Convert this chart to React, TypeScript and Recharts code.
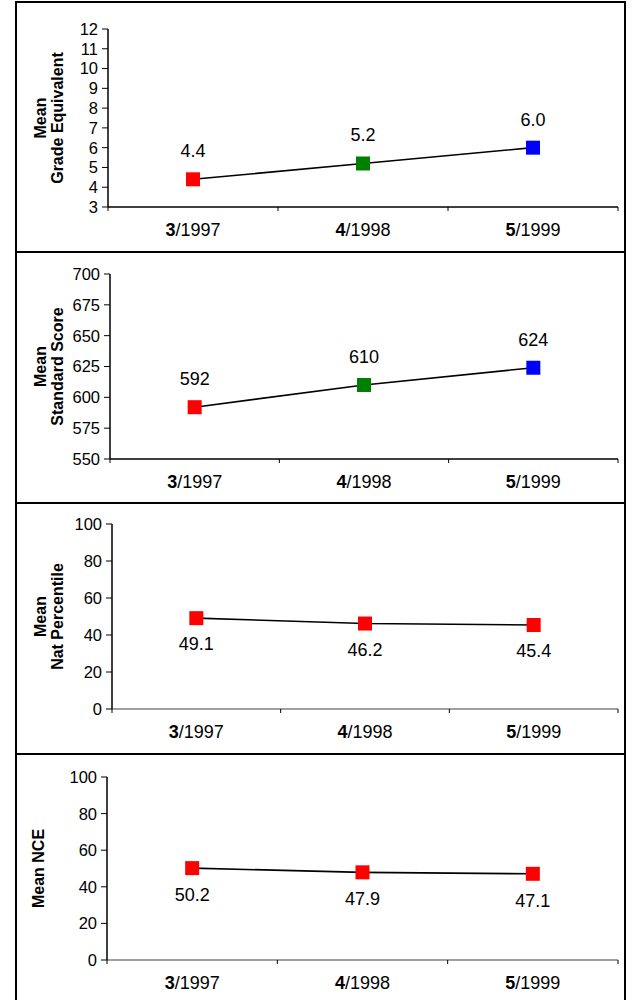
import React from 'react';
import { LineChart, Line, XAxis, YAxis, LabelList } from 'recharts';

// categories (grade/year) shared by all four panels
const categories = ['3/1997', '4/1998', '5/1999'];

const gradeEquivalent = [4.4, 5.2, 6.0];
const standardScore = [592, 610, 624];
const natPercentile = [49.1, 46.2, 45.4];
const meanNce = [50.2, 47.9, 47.1];

const gradeTicks = [3, 4, 5, 6, 7, 8, 9, 10, 11, 12];
const scoreTicks = [550, 575, 600, 625, 650, 675, 700];
const percentTicks = [0, 20, 40, 60, 80, 100];

const mixedColors = ['#ff0000', '#008000', '#0000ff'];
const redColors = ['#ff0000', '#ff0000', '#ff0000'];

// boundaries at integers, labels at the band centres
const xTicks = [0, 0.5, 1, 1.5, 2, 2.5, 3];

const XTick = (props: any) => {
  const { x, y, payload } = props;
  const v = payload.value;
  if (Number.isInteger(v)) {
    return <line x1={x} y1={y} x2={x} y2={y + 4} stroke="#000" strokeWidth={1} />;
  }
  const [grade, year] = categories[Math.floor(v)].split('/');
  return (
    <text x={x} y={y + 29} textAnchor="middle" fontSize={18} fill="#000">
      <tspan fontWeight="bold">{grade}</tspan>
      <tspan>/{year}</tspan>
    </text>
  );
};

const YTick = (props: any) => {
  const { x, y, payload } = props;
  return (
    <text x={x} y={y} dy="0.36em" textAnchor="end" fontSize={16.5} fill="#000">
      {payload.value}
    </text>
  );
};

interface PanelProps {
  values: number[];
  ticks: number[];
  colors: string[];
  title: string[];
  titleX: number[];
  labelOffset: number;
  decimals: number;
  height: number;
  margin: { top: number; right: number; bottom: number; left: number };
  xAxisColor: string;
  last?: boolean;
}

const Panel = ({ values, ticks, colors, title, titleX, labelOffset, decimals, height, margin, xAxisColor, last }: PanelProps) => {
  const data = categories.map((c, i) => ({ x: i + 0.5, cat: c, value: values[i] }));

  const renderTitle = (p: any) => {
    const vb = p.viewBox || {};
    const cy = vb.y + vb.height / 2;
    return (
      <g>
        {title.map((t, i) => (
          <text
            key={t}
            x={titleX[i]}
            y={cy}
            transform={`rotate(-90, ${titleX[i]}, ${cy})`}
            textAnchor="middle"
            fontWeight="bold"
            fontSize={16}
            fill="#000"
          >
            {t}
          </text>
        ))}
      </g>
    );
  };

  const renderLabel = (p: any) => {
    const x = p.viewBox?.x ?? p.x;
    const y = p.viewBox?.y ?? p.y;
    return (
      <text x={x} y={y + labelOffset} textAnchor="middle" fontSize={18} fill="#000">
        {Number(p.value).toFixed(decimals)}
      </text>
    );
  };

  return (
    <div style={{ height, borderBottom: last ? 'none' : '2px solid #000' }}>
      <LineChart width={606} height={height} data={data} margin={margin}>
        <XAxis
          type="number"
          dataKey="x"
          domain={[0, 3]}
          ticks={xTicks}
          interval={0}
          tick={<XTick />}
          tickLine={false}
          tickSize={0}
          tickMargin={0}
          axisLine={{ stroke: xAxisColor, strokeWidth: 1.5 }}
          height={30}
        />
        <YAxis
          type="number"
          domain={[ticks[0], ticks[ticks.length - 1]]}
          ticks={ticks}
          interval={0}
          width={50}
          tickSize={6}
          tickMargin={4}
          tick={<YTick />}
          tickLine={{ stroke: '#000' }}
          axisLine={{ stroke: '#000', strokeWidth: 1.5 }}
          label={{ content: renderTitle }}
        />
        <Line
          dataKey="value"
          stroke="#000"
          strokeWidth={1.6}
          isAnimationActive={false}
          activeDot={false}
          dot={(p: any) => (
            <rect key={`d${p.index}`} x={p.cx - 7} y={p.cy - 7} width={14} height={14} fill={colors[p.index]} />
          )}
        >
          <LabelList dataKey="value" content={renderLabel} />
        </Line>
      </LineChart>
    </div>
  );
};

const App = () => {
  return (
    <div
      style={{
        position: 'absolute',
        left: 15,
        top: 1,
        width: 611,
        boxSizing: 'border-box',
        borderTop: '2px solid #000',
        borderLeft: '2px solid #000',
        borderRight: '2px solid #000',
        fontFamily: 'Arial, "Liberation Sans", sans-serif',
        background: '#fff',
      }}
    >
      <Panel
        values={gradeEquivalent}
        ticks={gradeTicks}
        colors={mixedColors}
        title={['Mean', 'Grade Equivalent']}
        titleX={[29, 46]}
        labelOffset={-22}
        decimals={1}
        height={248}
        margin={{ top: 26, right: 5, bottom: 14, left: 41 }}
        xAxisColor="#000"
      />
      <Panel
        values={standardScore}
        ticks={scoreTicks}
        colors={mixedColors}
        title={['Mean', 'Standard Score']}
        titleX={[29, 46]}
        labelOffset={-22}
        decimals={0}
        height={249}
        margin={{ top: 21, right: 5, bottom: 13, left: 43 }}
        xAxisColor="#000"
      />
      <Panel
        values={natPercentile}
        ticks={percentTicks}
        colors={redColors}
        title={['Mean', 'Nat Percentile']}
        titleX={[29, 46]}
        labelOffset={32}
        decimals={1}
        height={249}
        margin={{ top: 20, right: 5, bottom: 14, left: 45 }}
        xAxisColor="#808080"
      />
      <Panel
        values={meanNce}
        ticks={percentTicks}
        colors={redColors}
        title={['Mean NCE']}
        titleX={[27]}
        labelOffset={33}
        decimals={1}
        height={246}
        margin={{ top: 22, right: 5, bottom: 11, left: 40 }}
        xAxisColor="#808080"
        last
      />
    </div>
  );
};

export default App;
